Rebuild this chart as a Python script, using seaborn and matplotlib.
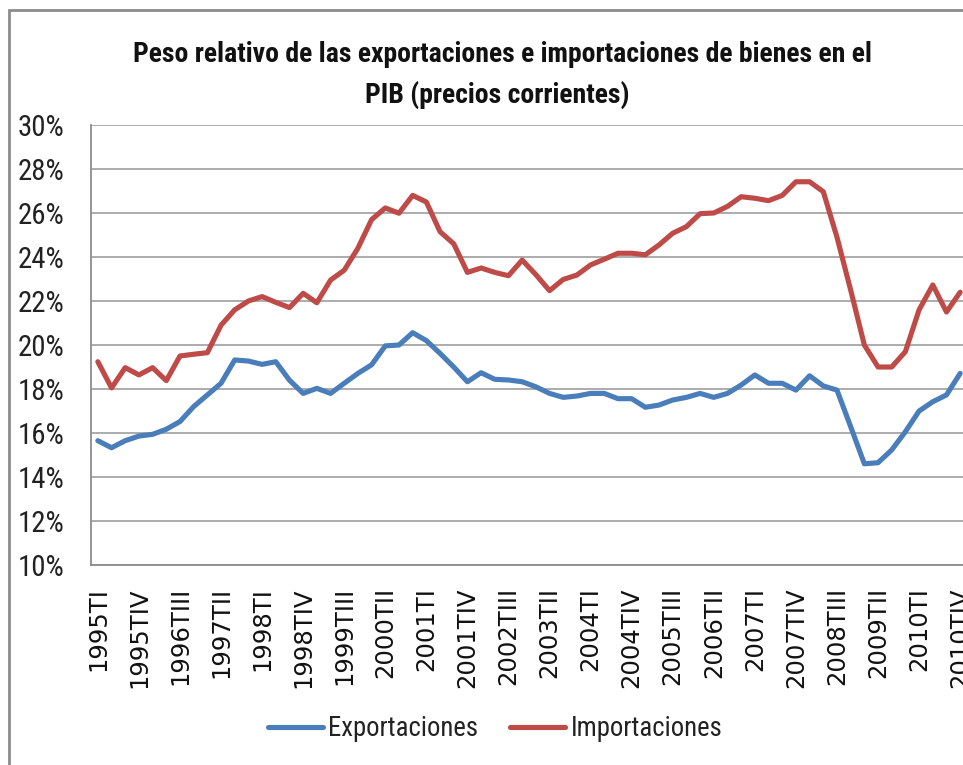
import pandas as pd
import seaborn as sns
import matplotlib.pyplot as plt
import numpy as np
from matplotlib import font_manager
from matplotlib.patches import Rectangle
from matplotlib.ticker import PercentFormatter

# Quarters 1995TI .. 2010TIV
years = list(range(1995, 2011))
roman = ['I', 'II', 'III', 'IV']
quarters = [f"{y}T{r}" for y in years for r in roman]

# Values (% of GDP)
exportaciones = [15.65, 15.33, 15.65, 15.86, 15.94, 16.17, 16.52, 17.20, 17.73, 18.26,
                 19.32, 19.27, 19.12, 19.24, 18.40, 17.80, 18.03, 17.80, 18.26, 18.71,
                 19.10, 19.96, 20.00, 20.56, 20.20, 19.62, 19.00, 18.33, 18.74, 18.44,
                 18.41, 18.33, 18.10, 17.80, 17.62, 17.68, 17.80, 17.80, 17.56, 17.56,
                 17.17, 17.27, 17.50, 17.62, 17.80, 17.62, 17.80, 18.18, 18.64, 18.26,
                 18.26, 17.95, 18.60, 18.14, 17.95, 16.29, 14.60, 14.65, 15.23, 16.06,
                 17.00, 17.42, 17.73, 18.71]
importaciones = [19.24, 18.05, 18.97, 18.64, 18.97, 18.38, 19.50, 19.58, 19.65, 20.90,
                 21.60, 22.00, 22.20, 21.94, 21.70, 22.35, 21.92, 22.95, 23.40, 24.40,
                 25.70, 26.23, 25.99, 26.80, 26.50, 25.15, 24.60, 23.30, 23.50, 23.30,
                 23.15, 23.86, 23.20, 22.47, 22.98, 23.18, 23.64, 23.90, 24.17, 24.17,
                 24.10, 24.55, 25.08, 25.38, 25.97, 26.00, 26.30, 26.74, 26.67, 26.56,
                 26.80, 27.42, 27.42, 26.97, 24.90, 22.50, 20.00, 19.00, 19.00, 19.70,
                 21.60, 22.73, 21.50, 22.40]

series_names = ['Exportaciones', 'Importaciones']
colors = {'Exportaciones': '#4A7EBB', 'Importaciones': '#BE4B48'}
title_lines = ['Peso relativo de las exportaciones e importaciones de bienes en el',
               'PIB (precios corrientes)']

df = pd.DataFrame({'pos': np.arange(len(quarters)),
                   'Exportaciones': exportaciones,
                   'Importaciones': importaciones})
df_long = pd.melt(df, id_vars=['pos'], value_vars=series_names,
                  var_name='serie', value_name='valor')

sns.set_style("white")

# pick a narrow-ish family, Calibri is not available
installed = {f.name for f in font_manager.fontManager.ttflist}
narrow = next((f for f in ['Liberation Sans Narrow', 'Roboto Condensed',
                           'Open Sans Condensed', 'Lato', 'Roboto']
               if f in installed), 'DejaVu Sans')
plt.rcParams['font.family'] = [narrow, 'DejaVu Sans']

fig = plt.figure(figsize=(9.63, 7.65), dpi=100)
ax = fig.add_axes([91 / 963, 200 / 765, 876 / 963, 440 / 765])
renderer = fig.canvas.get_renderer()


def fit_size(txt, target_px):
    # scale font so the text gets the width it has in the reference
    w = txt.get_window_extent(renderer).width
    txt.set_fontsize(txt.get_fontsize() * target_px / w)
    return txt.get_fontsize()


sns.lineplot(data=df_long, x='pos', y='valor', hue='serie', palette=colors,
             linewidth=3.7, ax=ax, legend=False)

grey = '#8C8C8C'
ax.set_xlim(-0.5, len(quarters) - 0.5)
ax.set_ylim(10, 30)
ax.set_yticks(np.arange(10, 31, 2))
ax.yaxis.set_major_formatter(PercentFormatter(decimals=0))
ax.grid(axis='y', color='#A6A6A6', linewidth=1.3)
ax.set_axisbelow(True)

# y tick label size from the width of "30%"
probe = fig.text(0, 0, '30%', fontsize=20)
ytick_size = fit_size(probe, 47)
probe.remove()

# category labels every 3 quarters, tick marks on category boundaries
label_pos = list(range(0, len(quarters), 3))
ax.set_xticks(label_pos)
ax.set_xticklabels([quarters[i] for i in label_pos], rotation=90, va='top',
                   family='DejaVu Sans', fontsize=17.5)
ax.set_xticks(np.arange(-0.5, len(quarters), 1), minor=True)
ax.tick_params(axis='x', which='major', length=0, pad=16)
ax.tick_params(axis='x', which='minor', length=7, color=grey, width=1, direction='out')
ax.tick_params(axis='y', which='major', length=7, color=grey, width=1,
               direction='out', labelsize=ytick_size, pad=12, labelcolor='#222222')
ax.tick_params(axis='x', labelcolor='#111111')
ax.set_xlabel('')
ax.set_ylabel('')

for side in ['top', 'right']:
    ax.spines[side].set_visible(False)
for side in ['left', 'bottom']:
    ax.spines[side].set_color(grey)
    ax.spines[side].set_linewidth(1.3)

t1 = fig.text(502 / 963, 1 - 55 / 765, title_lines[0], ha='center', va='center',
              fontsize=18, fontweight='bold', color='#111111')
title_size = fit_size(t1, 740)
fig.text(497 / 963, 1 - 95 / 765, title_lines[1], ha='center', va='center',
         fontsize=title_size, fontweight='bold', color='#111111')

probe = fig.text(0, 0, 'Exportaciones', fontsize=20)
legend_size = fit_size(probe, 150)
probe.remove()

handles = [plt.Line2D([], [], color=colors[s], linewidth=3.7) for s in series_names]
fig.legend(handles, series_names, loc='center', bbox_to_anchor=(495 / 963, 1 - 729 / 765),
           ncol=2, frameon=False, fontsize=legend_size, handlelength=55 / legend_size * 0.72,
           handletextpad=0.2, columnspacing=1.2, labelcolor='#222222')

# outer chart frame (cropped on the right and bottom)
fig.patches.append(Rectangle((9 / 963, -0.05), 1.2, 1 - 10 / 765 + 0.05,
                             transform=fig.transFigure, fill=False,
                             edgecolor=grey, linewidth=2))

fig.savefig('out.png', dpi=100)
